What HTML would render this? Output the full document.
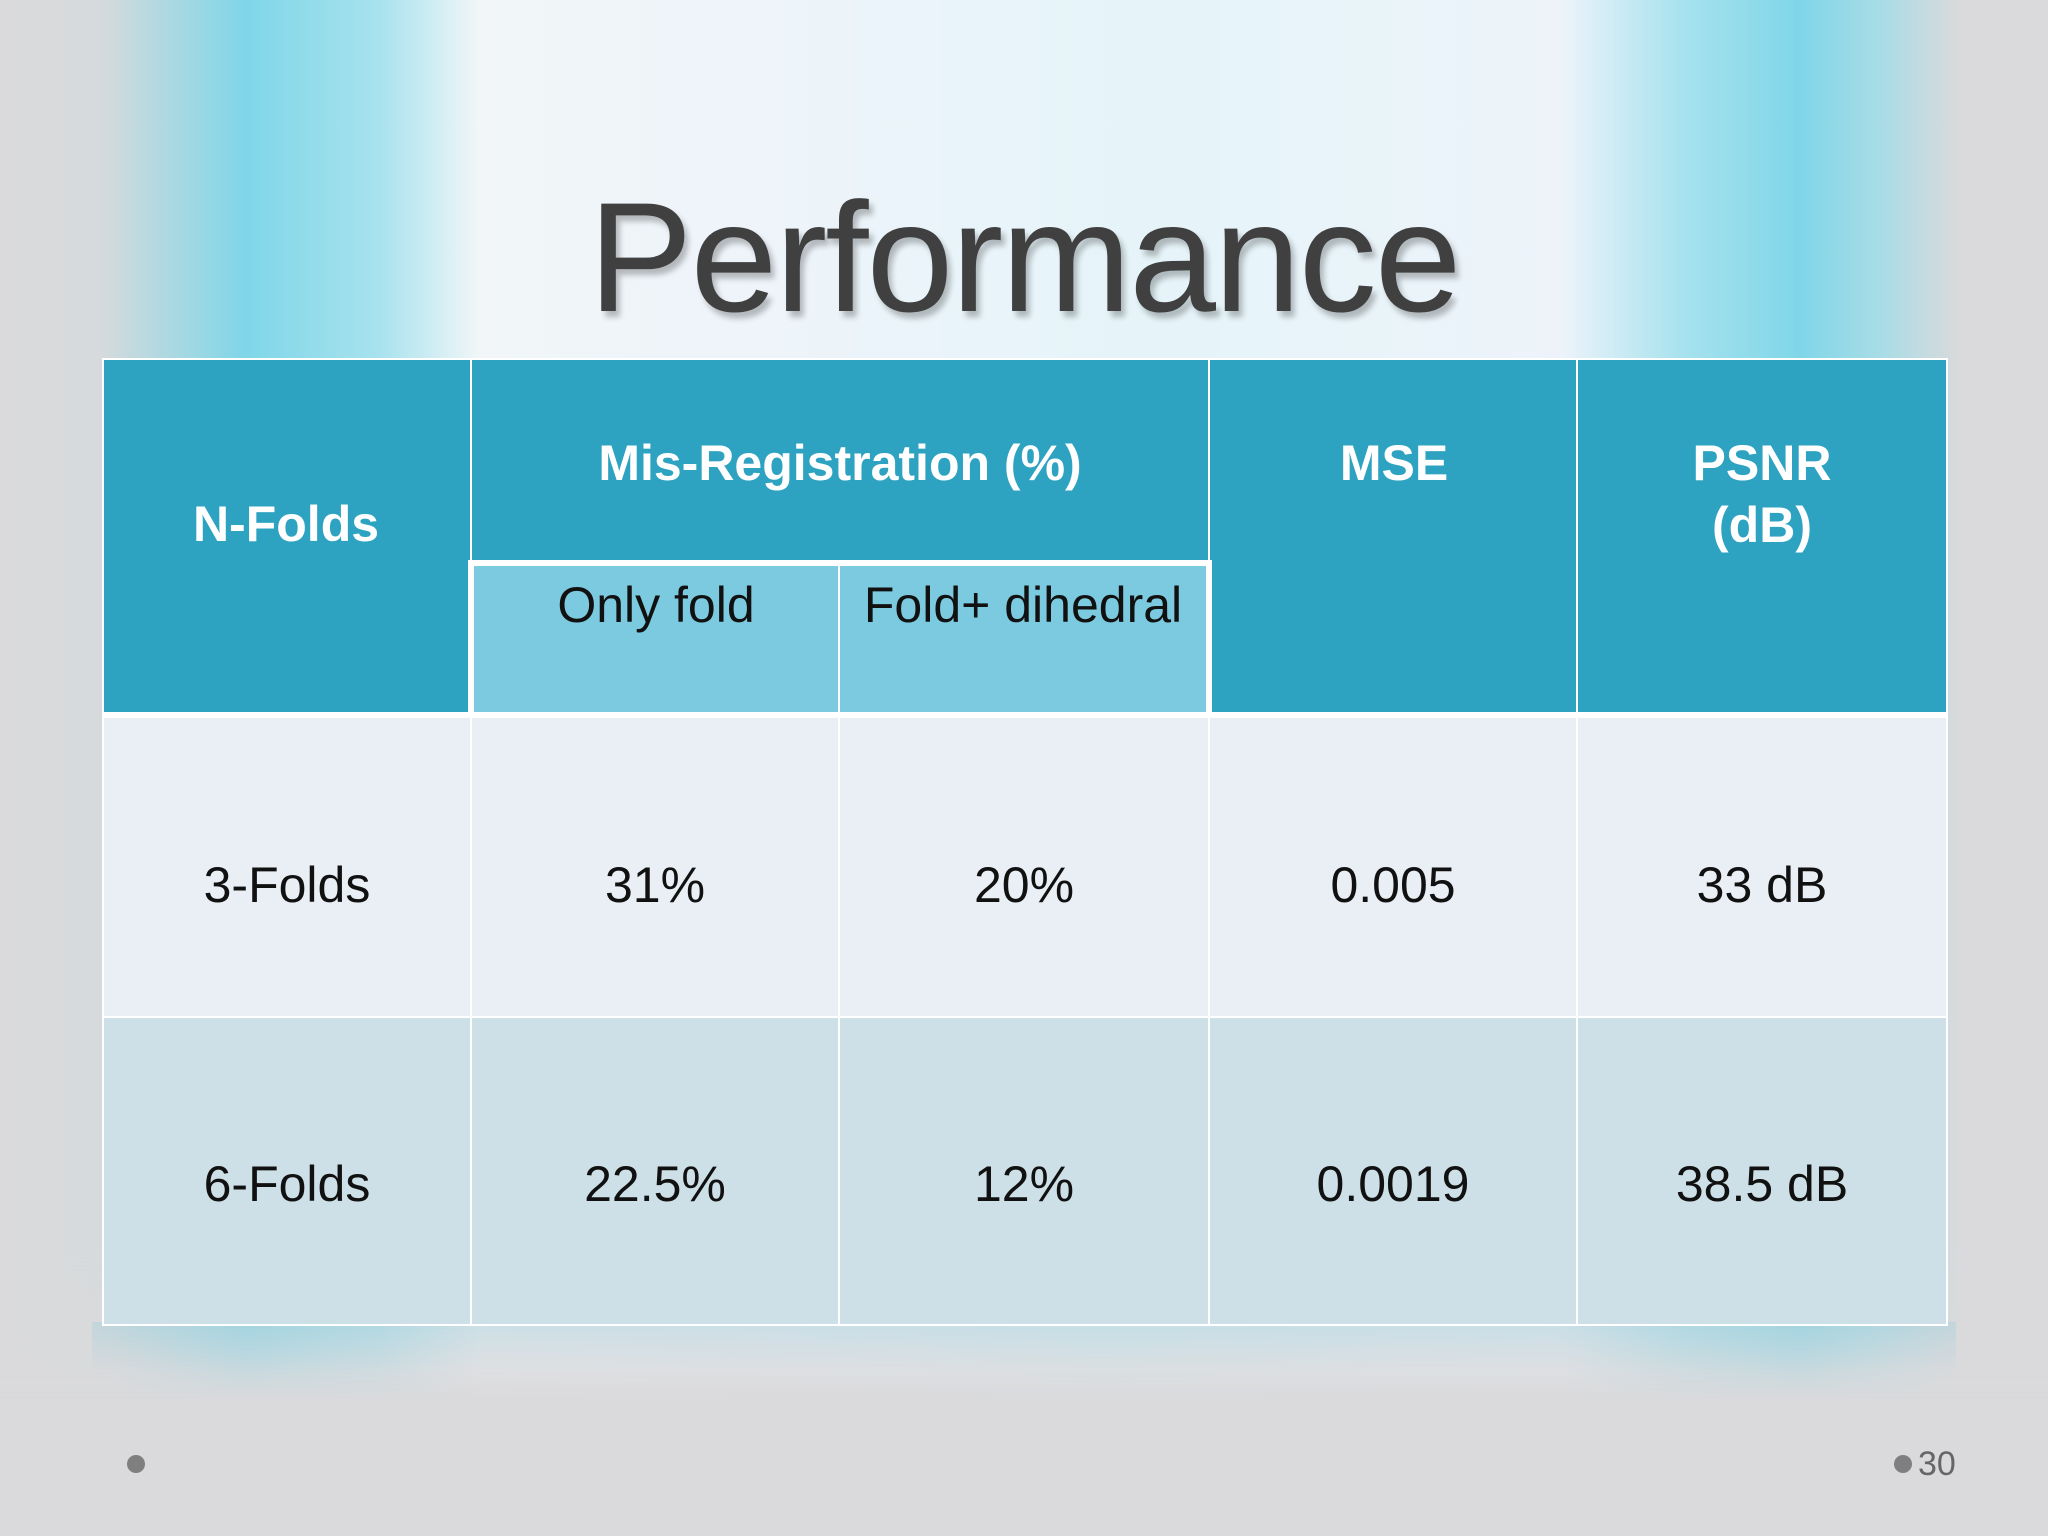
<!DOCTYPE html>
<html><head><meta charset="utf-8"><style>
html,body{margin:0;padding:0}
body{width:2048px;height:1536px;position:relative;overflow:hidden;background:#dadadc;font-family:"Liberation Sans",Arial,sans-serif}
.bg{position:absolute;left:0;top:0;width:2048px;height:1400px;
background:linear-gradient(90deg,#dadadc 0px,#d6dadc 100px,#7fd6e8 245px,#a8e2ee 380px,#f2f6f8 480px,#eef3fa 800px,#e0f4f8 1100px,#eef3fa 1560px,#a8e2ee 1680px,#7fd6e8 1800px,#a8dce6 1880px,#dadadc 1960px,#dadadc 2048px);
-webkit-mask-image:linear-gradient(180deg,#000 0,#000 1250px,transparent 1400px)}
.mid{position:absolute;left:470px;top:0;width:1120px;height:380px;background:linear-gradient(90deg,rgba(240,246,250,0),rgba(235,245,250,.6),rgba(240,246,250,0))}
.title{position:absolute;left:0;width:2048px;top:168px;text-align:center;font-size:156px;color:#404040;letter-spacing:-2px;text-shadow:4px 6px 6px rgba(0,0,0,.25);line-height:180px}
.shadow{position:absolute;left:92px;top:1322px;width:1864px;height:50px;background:linear-gradient(180deg,rgba(150,205,220,.35),rgba(200,220,225,0))}
table{position:absolute;left:102px;top:358px;width:1844px;border-collapse:collapse;table-layout:fixed}
td{border:2px solid #fff;text-align:center;font-size:50px;color:#111;padding:0}
.h{background:#2ea3c1;color:#fff;font-weight:bold}
.sub{background:#7ccae0;color:#111;font-weight:normal;vertical-align:top;padding-top:10px}
.r1 td{background:#e9eff5;height:262px;padding-top:36px}
.r2 td{background:#cde0e7;height:280px;padding-top:26px}
.dot{position:absolute;width:18px;height:18px;border-radius:50%;background:#7f7f7f}
.pn{position:absolute;left:1918px;top:1445px;font-size:34px;color:#666}
</style></head><body>
<div class="bg"></div>
<div class="mid"></div>
<div class="title">Performance</div>
<div class="shadow"></div>
<table>
<colgroup><col style="width:368px"><col style="width:368px"><col style="width:370px"><col style="width:368px"><col style="width:370px"></colgroup>
<tr style="height:204px">
<td class="h" rowspan="2" style="vertical-align:middle;padding-bottom:24px">N-Folds</td>
<td class="h" colspan="2" style="vertical-align:top;padding-top:74px">Mis-Registration (%)</td>
<td class="h" rowspan="2" style="vertical-align:top;padding-top:74px">MSE</td>
<td class="h" rowspan="2" style="vertical-align:top;padding-top:72px;line-height:62px">PSNR<br>(dB)</td>
</tr>
<tr style="height:152px">
<td class="sub" style="border-left:6px solid #fff;border-top:6px solid #fff">Only fold</td>
<td class="sub" style="border-right:6px solid #fff;border-top:6px solid #fff">Fold+ dihedral</td>
</tr>
<tr class="r1" style="border-top:6px solid #fff">
<td>3-Folds</td>
<td>31%</td>
<td>20%</td>
<td>0.005</td>
<td>33 dB</td>
</tr>
<tr class="r2">
<td>6-Folds</td>
<td>22.5%</td>
<td>12%</td>
<td>0.0019</td>
<td>38.5 dB</td>
</tr>
</table>
<div class="dot" style="left:127px;top:1455px"></div>
<div class="dot" style="left:1894px;top:1455px"></div>
<div class="pn">30</div>
</body></html>
